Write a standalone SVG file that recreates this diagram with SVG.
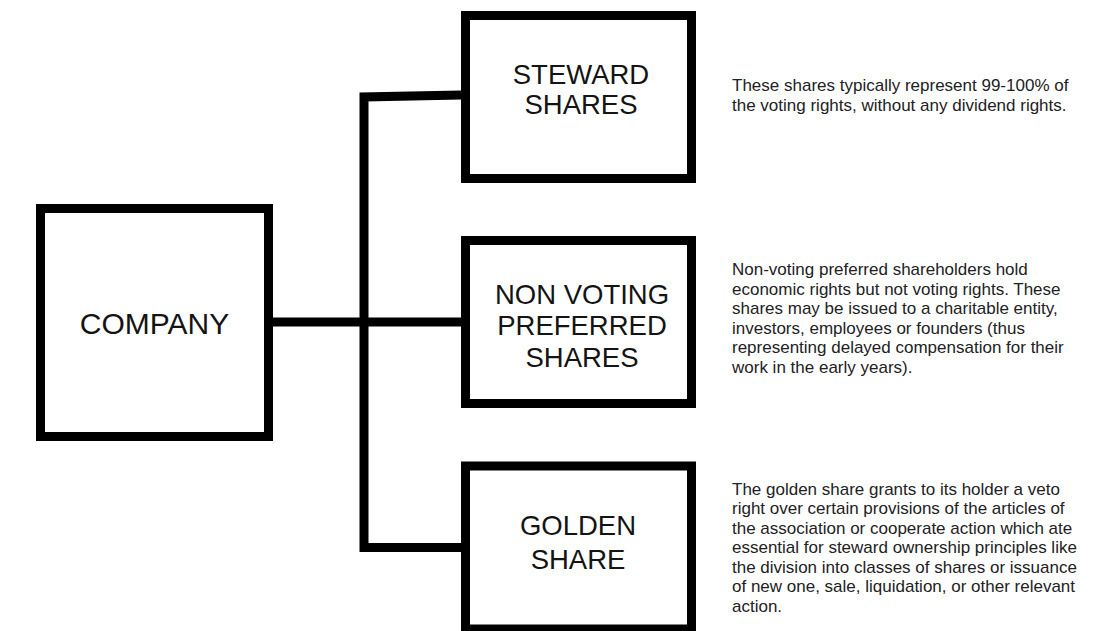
<svg xmlns="http://www.w3.org/2000/svg" width="1107" height="631" viewBox="0 0 1107 631">
<style>
.box{fill:#fff;stroke:#000;stroke-width:9}
.conn{fill:none;stroke:#000;stroke-width:9;stroke-linejoin:miter}
.lbl{font-family:"Liberation Sans",Arial,sans-serif;font-size:27.5px;fill:#141414;text-anchor:middle}
.desc{font-family:"Liberation Sans",Arial,sans-serif;font-size:17px;fill:#222}
</style>
<rect width="1107" height="631" fill="#fff"/>
<g id="connectors">
<path class="conn" d="M273,322 H461"/>
<path class="conn" d="M461,95 L364,97 V547.5 H461"/>
</g>
<g id="company">
<rect class="box" x="40.5" y="208.5" width="228" height="228"/>
<text class="lbl" x="154.5" y="334" style="font-size:30px">COMPANY</text>
</g>
<g id="steward">
<rect class="box" x="465.5" y="15.5" width="226" height="163"/>
<text class="lbl" x="581" y="83.5">STEWARD</text>
<text class="lbl" x="581" y="114">SHARES</text>
</g>
<g id="nonvoting">
<rect class="box" x="465.5" y="240.5" width="226" height="163"/>
<text class="lbl" x="582" y="303.5">NON VOTING</text>
<text class="lbl" x="582" y="335">PREFERRED</text>
<text class="lbl" x="582" y="367">SHARES</text>
</g>
<g id="golden">
<rect class="box" x="465.5" y="466" width="226" height="163"/>
<text class="lbl" x="578" y="534.5">GOLDEN</text>
<text class="lbl" x="578" y="568.5">SHARE</text>
</g>
<g id="desc-steward">
<text class="desc" x="732" y="91">These shares typically represent 99-100% of</text>
<text class="desc" x="732" y="110.5">the voting rights, without any dividend rights.</text>
</g>
<g id="desc-nonvoting">
<text class="desc" x="732" y="275">Non-voting preferred shareholders hold</text>
<text class="desc" x="732" y="294.5">economic rights but not voting rights. These</text>
<text class="desc" x="732" y="314">shares may be issued to a charitable entity,</text>
<text class="desc" x="732" y="333.5">investors, employees or founders (thus</text>
<text class="desc" x="732" y="353">representing delayed compensation for their</text>
<text class="desc" x="732" y="372.5">work in the early years).</text>
</g>
<g id="desc-golden">
<text class="desc" x="732" y="494.5">The golden share grants to its holder a veto</text>
<text class="desc" x="732" y="514">right over certain provisions of the articles of</text>
<text class="desc" x="732" y="533.5">the association or cooperate action which ate</text>
<text class="desc" x="732" y="553">essential for steward ownership principles like</text>
<text class="desc" x="732" y="572.5">the division into classes of shares or issuance</text>
<text class="desc" x="732" y="592">of new one, sale, liquidation, or other relevant</text>
<text class="desc" x="732" y="611.5">action.</text>
</g>
</svg>
